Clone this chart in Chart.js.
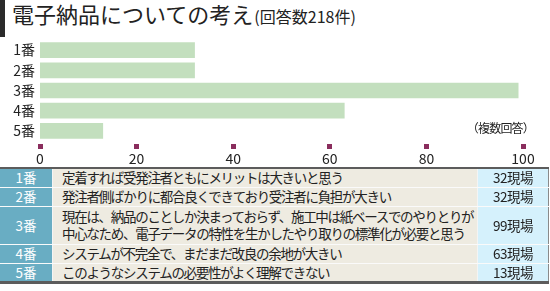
<!DOCTYPE html>
<html>
<head>
<meta charset="utf-8">
<script src="https://cdn.jsdelivr.net/npm/chart.js@4/dist/chart.umd.min.js"></script>
<style>
html, body { margin: 0; padding: 0; background: #fff; }
#wrap { position: relative; width: 550px; height: 291px; overflow: hidden; font-family: "Noto Sans CJK JP", sans-serif; color: #222; }
#mark { position: absolute; left: 0; top: 0; width: 5px; height: 37px; background: #2b2b2b; }
#title { position: absolute; left: 12px; top: 1px; font-size: 22px; line-height: 24px; white-space: nowrap; }
#title span { font-size: 16px; margin-left: 1px; }
#chart { position: absolute; left: 0; top: 0; }
#note { position: absolute; right: 16px; top: 121px; font-size: 12px; line-height: 14px; letter-spacing: -0.8px; }
#tbl { position: absolute; left: 0; top: 167px; width: 549px; border-collapse: collapse; table-layout: fixed;
	border-top: 2px solid #5c5c5c; border-bottom: 3px solid #5c5c5c; border-right: 1px solid #8a8a8a; }
#tbl td { padding: 0; font-size: 13.5px; line-height: 17px; letter-spacing: -1.3px; white-space: nowrap; overflow: hidden;
	border-bottom: 1px solid #fafafa; }
#tbl td.no { width: 52px; background: #69adc3; color: #fff; text-align: center; border-right: 1px solid #f4f4f4; letter-spacing: 0; }
#tbl td.txt { background: #eeebe1; padding-left: 9px; border-right: 1px solid #f4f4f4; }
#tbl td.cnt { width: 70px; background: #d5f1fc; text-align: center; letter-spacing: -0.5px; }
</style>
</head>
<body>
<div id="wrap">
	<div id="mark"></div>
	<div id="title">電子納品についての考え<span>(回答数218件)</span></div>
	<canvas id="chart" width="550" height="167"></canvas>
	<div id="note">（複数回答）</div>
	<table id="tbl"></table>
</div>
<script>
var categories = ['1番', '2番', '3番', '4番', '5番'];
var values = [32, 32, 99, 63, 13];
var xTicks = [0, 20, 40, 60, 80, 100];
var answers = [
	'定着すれば受発注者ともにメリットは大きいと思う',
	'発注者側ばかりに都合良くできており受注者に負担が大きい',
	'現在は、納品のことしか決まっておらず、施工中は紙ベースでのやりとりが\n中心なため、電子データの特性を生かしたやり取りの標準化が必要と思う',
	'システムが不完全で、まだまだ改良の余地が大きい',
	'このようなシステムの必要性がよく理解できない'
];
var unit = '現場';

var tickMarks = {
	id: 'tickMarks',
	afterDraw: function (chart) {
		var ctx = chart.ctx;
		var xs = chart.scales.x;
		ctx.save();
		ctx.fillStyle = '#8a2d5d';
		for (var i = 0; i < xs.ticks.length; i++) {
			var x = xs.getPixelForTick(i);
			ctx.fillRect(Math.round(x - 2.5), chart.chartArea.bottom + 3, 5, 5);
		}
		ctx.restore();
	}
};

new Chart(document.getElementById('chart'), {
	type: 'bar',
	data: {
		labels: categories,
		datasets: [{
			data: values,
			backgroundColor: '#c3dfbe',
			borderWidth: 0,
			barThickness: 15
		}]
	},
	options: {
		indexAxis: 'y',
		responsive: false,
		animation: false,
		layout: { padding: { top: 40, right: 27, left: 0, bottom: 0 } },
		plugins: { legend: { display: false }, tooltip: { enabled: false } },
		scales: {
			x: {
				min: 0,
				max: 100,
				afterBuildTicks: function (s) {
					s.ticks = xTicks.map(function (v) { return { value: v }; });
				},
				afterFit: function (s) { s.height = 26; },
				grid: { display: false, drawTicks: false },
				border: { display: false },
				ticks: { padding: 9, color: '#222', font: { family: 'Noto Sans CJK JP', size: 14 } }
			},
			y: {
				afterFit: function (s) { s.width = 40; },
				grid: { display: false, drawTicks: false },
				border: { display: false },
				ticks: { padding: 5, color: '#222', font: { family: 'Noto Sans CJK JP', size: 14 } }
			}
		}
	},
	plugins: [tickMarks]
});

// answer table below the chart
var tbl = document.getElementById('tbl');
for (var i = 0; i < categories.length; i++) {
	var lines = answers[i].split('\n');
	var tr = document.createElement('tr');
	tr.style.height = (lines.length * 19) + 'px';
	var a = document.createElement('td');
	a.className = 'no';
	a.textContent = categories[i];
	var b = document.createElement('td');
	b.className = 'txt';
	b.innerHTML = lines.join('<br>');
	var c = document.createElement('td');
	c.className = 'cnt';
	c.textContent = values[i] + unit;
	tr.appendChild(a);
	tr.appendChild(b);
	tr.appendChild(c);
	tbl.appendChild(tr);
}
</script>
</body>
</html>
